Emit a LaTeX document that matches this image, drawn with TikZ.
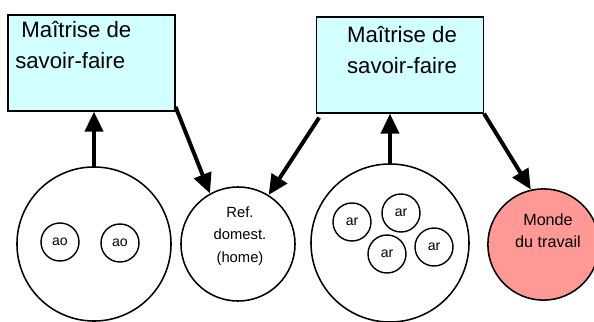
\documentclass[tikz,border=0pt]{standalone}
\usepackage{fontspec}
\setmainfont{Liberation Sans}
\usepackage{tikz}
\usetikzlibrary{positioning,arrows.meta,calc}

\definecolor{boxcyan}{RGB}{210,255,255}
\definecolor{mondered}{RGB}{255,153,150}

\begin{document}
\begin{tikzpicture}[x=0.025cm,y=-0.025cm,>={Triangle[length=0.5cm,width=0.45cm]},
	savoir/.style={draw,line width=0.9pt,fill=boxcyan,minimum width=4.17cm,minimum height=2.4cm,inner sep=0pt},
	bigcirc/.style={draw,circle,line width=1.1pt,inner sep=0pt},
	smallcirc/.style={draw,circle,line width=1pt,minimum size=0.95cm,inner sep=0pt,font=\fontsize{10}{12}\selectfont},
	fleche/.style={->,line width=2.8pt}]
		
		% Frame
		\useasboundingbox (0,0) rectangle (594,322);
		
		% Boxes
		\node[savoir] (b1) at (91.5,63) {};
		\node[anchor=north west,align=left,inner sep=0pt,font=\fontsize{15.8}{22}\selectfont] (t1) at (15,21) {\ Maîtrise de\\savoir-faire};
		
		\node[savoir] (b2) at (400,65) {};
		\node[align=center,inner sep=0pt,font=\fontsize{15.8}{22}\selectfont] (t2) at (402,50) {Maîtrise de\\savoir-faire};
		
		% Circles
		\node[bigcirc,minimum size=3.85cm] (c1) at (94,244) {};
		\node[smallcirc] (ao1) at (60,242) {ao};
		\node[smallcirc] (ao2) at (120,243) {ao};
		
		\node[bigcirc,minimum size=2.85cm] (ref) at (238,244) {};
		\node[align=center,inner sep=0pt,font=\fontsize{10.5}{16}\selectfont] (tref) at (240,236) {Ref.\\domest.\\(home)};
		
		\node[bigcirc,minimum size=3.95cm] (c2) at (390,243) {};
		\node[smallcirc] (ar1) at (352,222) {ar};
		\node[smallcirc] (ar2) at (401,213) {ar};
		\node[smallcirc] (ar3) at (387,254) {ar};
		\node[smallcirc] (ar4) at (434,247) {ar};
		
		\node[bigcirc,fill=mondered,minimum size=2.78cm] (monde) at (543.5,244.5) {};
		\node[align=center,inner sep=0pt,font=\fontsize{11.5}{15.6}\selectfont] (tmonde) at (548,231) {Monde\\du travail};
		
		% Arrows
		\draw[fleche] (c1.north) -- (c1.north |- b1.south);
		\draw[fleche] ([yshift=0.12cm]b1.south east) -- (ref.119);
		\draw[fleche] ([xshift=0.08cm,yshift=-0.1cm]b2.south west) -- (ref.58);
		\draw[fleche] (c2.north) -- (c2.north |- b2.south);
		\draw[fleche] (b2.south east) -- (monde.103);
		
	\end{tikzpicture}
\end{document}
